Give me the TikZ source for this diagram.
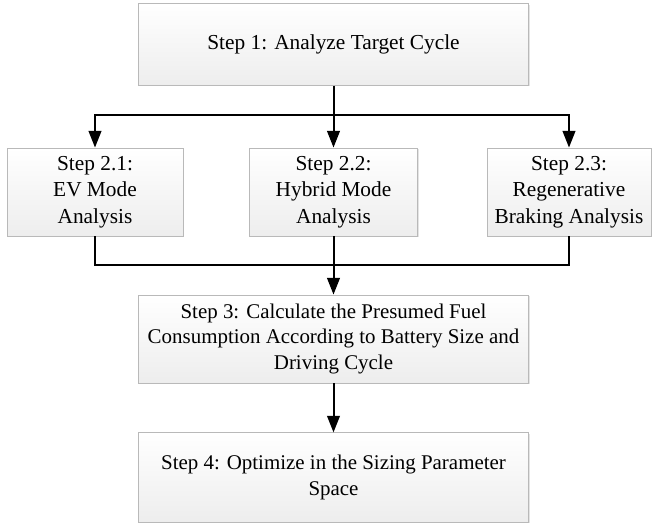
\documentclass[tikz,border=0pt]{standalone}
\usepackage{fontspec}
\setmainfont{Liberation Serif}
\newfontfamily\tnrfont{Liberation Serif}
\usetikzlibrary{arrows.meta,shadows}
\begin{document}
\begin{tikzpicture}[x=0.75pt,y=-0.75pt,
  stepbox/.style={draw=gray!55,line width=0.6pt,top color=white,bottom color=gray!14,
    align=center,inner sep=0pt,font=\tnrfont\fontsize{16}{20}\selectfont,
    drop shadow={shadow xshift=1pt,shadow yshift=-1pt,fill=gray!35,opacity=0.6}},
  conn/.style={line width=1.5pt,black},
  arr/.style={conn,-{Triangle[length=12.5pt,width=9.5pt]}}]
\useasboundingbox (0,0) rectangle (654,523);
\node[stepbox,minimum width=293pt,minimum height=61pt] (s1) at (333.5,44.5) {Step 1: Analyze Target Cycle};
\node[stepbox,minimum width=132pt,minimum height=66pt] (s21) at (95,192) {Step 2.1:\\EV Mode\\Analysis};
\node[stepbox,minimum width=126pt,minimum height=66pt] (s22) at (333.5,192) {Step 2.2:\\Hybrid Mode\\Analysis};
\node[stepbox,minimum width=123pt,minimum height=66pt] (s23) at (569,192) {Step 2.3:\\Regenerative\\Braking Analysis};
\node[stepbox,minimum width=293pt,minimum height=66pt,font=\tnrfont\fontsize{15.7}{19}\selectfont] (s3) at (333.5,339) {Step 3: Calculate the Presumed Fuel\\Consumption According to Battery Size and\\Driving Cycle};
\node[stepbox,minimum width=293pt,minimum height=67pt,font=\tnrfont\fontsize{15.7}{19}\selectfont] (s4) at (333.5,477.5) {Step 4: Optimize in the Sizing Parameter\\Space};
\coordinate (t) at (333.5,115);
\coordinate (b) at (333.5,265);
\draw[conn] (s1.south) -- (t);
\draw[arr] (t) -| (s21.north);
\draw[arr] (t) -| (s23.north);
\draw[arr] (t) -- (s22.north);
\draw[conn] (s21.south) |- (b);
\draw[conn] (s23.south) |- (b);
\draw[conn] (s22.south) -- (b);
\draw[arr] (b) -- (s3.north);
\draw[arr] (s3.south) -- (s4.north);
\end{tikzpicture}
\end{document}
